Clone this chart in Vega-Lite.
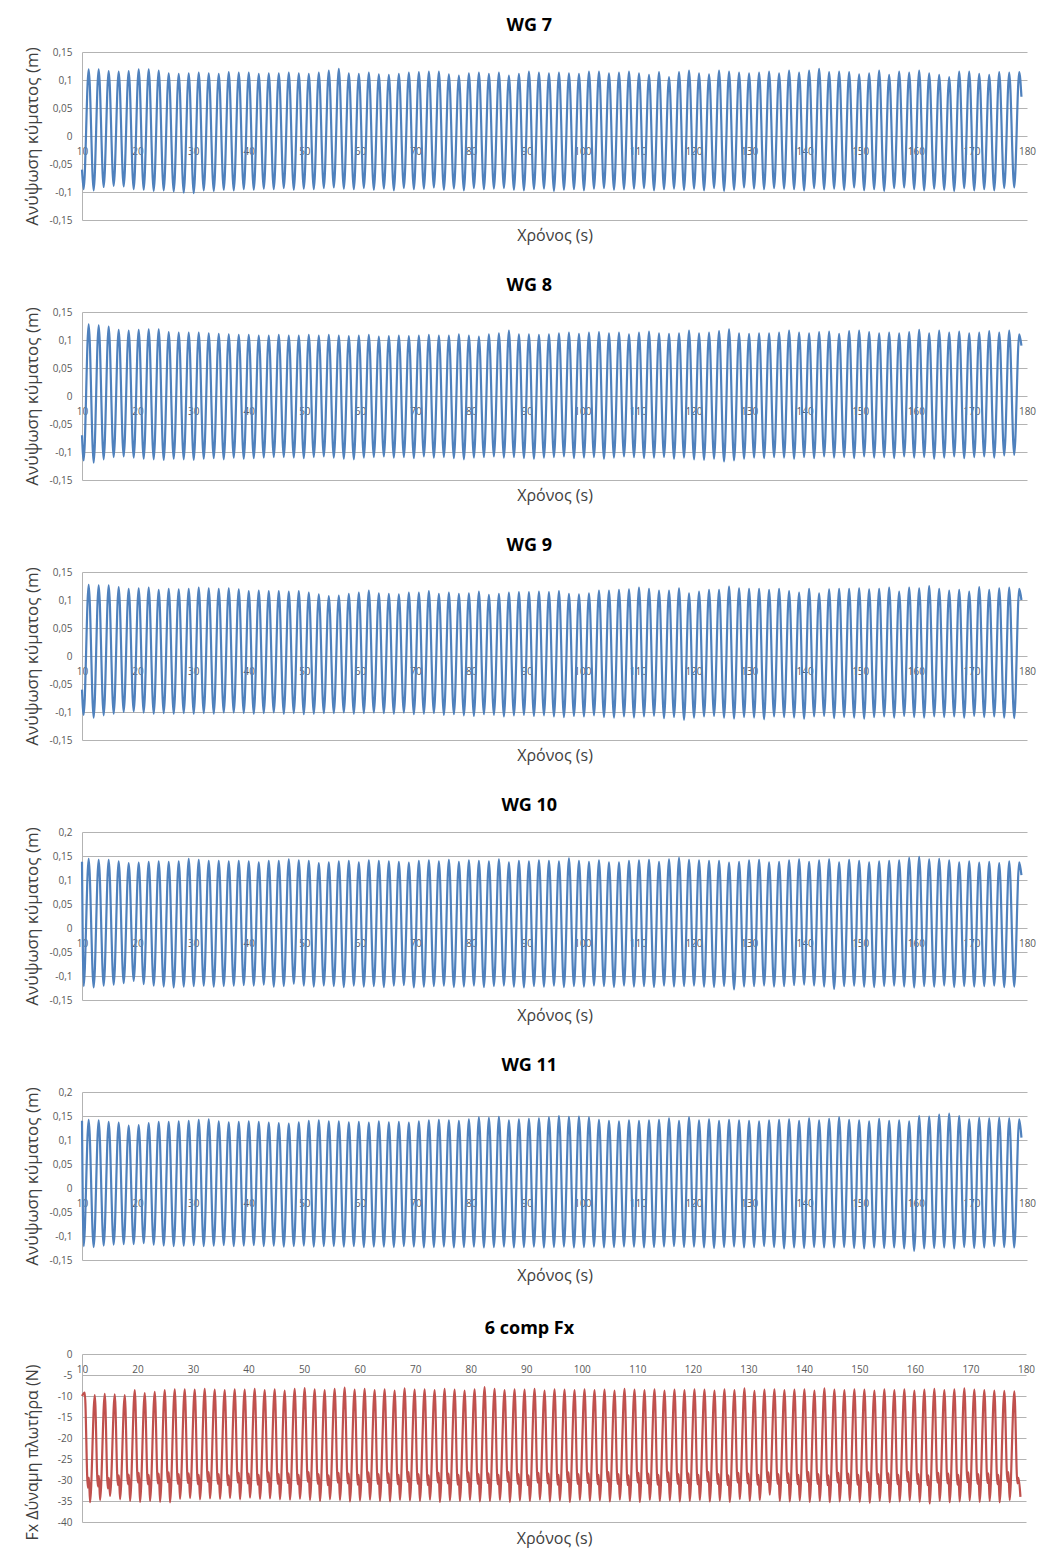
{
"$schema": "https://vega.github.io/schema/vega-lite/v6.json",
"background": "white",
"padding": {"left": 23, "top": 16, "right": 10, "bottom": 14},
"spacing": 37,
"datasets": {
"wg": [
{"t":10.0,"a":-0.06,"b":-0.07,"c":-0.06,"d":0.138,"e":0.14},
{"t":10.3,"a":-0.095,"b":-0.115,"c":-0.105,"d":-0.121,"e":-0.121},
{"t":11.2,"a":0.119,"b":0.128,"c":0.127,"d":0.144,"e":0.142},
{"t":12.1,"a":-0.097,"b":-0.119,"c":-0.110,"d":-0.124,"e":-0.123},
{"t":13.0,"a":0.119,"b":0.126,"c":0.126,"d":0.142,"e":0.141},
{"t":13.9,"a":-0.091,"b":-0.113,"c":-0.106,"d":-0.120,"e":-0.120},
{"t":14.8,"a":0.116,"b":0.124,"c":0.126,"d":0.142,"e":0.138},
{"t":15.7,"a":-0.089,"b":-0.109,"c":-0.103,"d":-0.118,"e":-0.118},
{"t":16.6,"a":0.115,"b":0.118,"c":0.123,"d":0.139,"e":0.136},
{"t":17.5,"a":-0.090,"b":-0.108,"c":-0.100,"d":-0.115,"e":-0.117},
{"t":18.4,"a":0.116,"b":0.117,"c":0.120,"d":0.135,"e":0.130},
{"t":19.3,"a":-0.095,"b":-0.110,"c":-0.099,"d":-0.110,"e":-0.117},
{"t":20.2,"a":0.119,"b":0.118,"c":0.121,"d":0.136,"e":0.131},
{"t":21.1,"a":-0.096,"b":-0.112,"c":-0.101,"d":-0.117,"e":-0.115},
{"t":22.0,"a":0.119,"b":0.119,"c":0.122,"d":0.138,"e":0.135},
{"t":22.9,"a":-0.098,"b":-0.113,"c":-0.103,"d":-0.120,"e":-0.118},
{"t":23.8,"a":0.117,"b":0.119,"c":0.118,"d":0.139,"e":0.138},
{"t":24.7,"a":-0.097,"b":-0.114,"c":-0.102,"d":-0.122,"e":-0.120},
{"t":25.6,"a":0.112,"b":0.114,"c":0.120,"d":0.138,"e":0.138},
{"t":26.5,"a":-0.099,"b":-0.112,"c":-0.103,"d":-0.124,"e":-0.121},
{"t":27.4,"a":0.111,"b":0.113,"c":0.119,"d":0.139,"e":0.139},
{"t":28.3,"a":-0.101,"b":-0.113,"c":-0.102,"d":-0.122,"e":-0.120},
{"t":29.2,"a":0.112,"b":0.113,"c":0.120,"d":0.144,"e":0.140},
{"t":30.1,"a":-0.102,"b":-0.114,"c":-0.103,"d":-0.121,"e":-0.119},
{"t":31.0,"a":0.113,"b":0.113,"c":0.122,"d":0.142,"e":0.142},
{"t":31.9,"a":-0.097,"b":-0.112,"c":-0.102,"d":-0.120,"e":-0.121},
{"t":32.8,"a":0.112,"b":0.112,"c":0.121,"d":0.140,"e":0.143},
{"t":33.7,"a":-0.098,"b":-0.111,"c":-0.103,"d":-0.122,"e":-0.120},
{"t":34.6,"a":0.111,"b":0.111,"c":0.120,"d":0.140,"e":0.139},
{"t":35.5,"a":-0.096,"b":-0.113,"c":-0.101,"d":-0.121,"e":-0.119},
{"t":36.4,"a":0.114,"b":0.110,"c":0.121,"d":0.139,"e":0.137},
{"t":37.3,"a":-0.097,"b":-0.110,"c":-0.101,"d":-0.120,"e":-0.121},
{"t":38.2,"a":0.113,"b":0.109,"c":0.119,"d":0.140,"e":0.138},
{"t":39.1,"a":-0.095,"b":-0.112,"c":-0.102,"d":-0.119,"e":-0.120},
{"t":40.0,"a":0.113,"b":0.109,"c":0.116,"d":0.139,"e":0.139},
{"t":40.9,"a":-0.096,"b":-0.111,"c":-0.103,"d":-0.120,"e":-0.119},
{"t":41.8,"a":0.111,"b":0.108,"c":0.117,"d":0.137,"e":0.138},
{"t":42.7,"a":-0.094,"b":-0.110,"c":-0.102,"d":-0.118,"e":-0.121},
{"t":43.6,"a":0.112,"b":0.108,"c":0.116,"d":0.140,"e":0.136},
{"t":44.5,"a":-0.095,"b":-0.109,"c":-0.101,"d":-0.122,"e":-0.120},
{"t":45.4,"a":0.112,"b":0.109,"c":0.116,"d":0.140,"e":0.135},
{"t":46.3,"a":-0.093,"b":-0.109,"c":-0.103,"d":-0.121,"e":-0.122},
{"t":47.2,"a":0.113,"b":0.108,"c":0.115,"d":0.143,"e":0.134},
{"t":48.1,"a":-0.096,"b":-0.110,"c":-0.102,"d":-0.116,"e":-0.121},
{"t":49.0,"a":0.112,"b":0.108,"c":0.116,"d":0.141,"e":0.137},
{"t":49.9,"a":-0.094,"b":-0.111,"c":-0.104,"d":-0.120,"e":-0.120},
{"t":50.8,"a":0.111,"b":0.109,"c":0.113,"d":0.140,"e":0.140},
{"t":51.7,"a":-0.095,"b":-0.109,"c":-0.103,"d":-0.122,"e":-0.122},
{"t":52.6,"a":0.113,"b":0.108,"c":0.110,"d":0.135,"e":0.141},
{"t":53.5,"a":-0.093,"b":-0.108,"c":-0.102,"d":-0.120,"e":-0.121},
{"t":54.4,"a":0.117,"b":0.109,"c":0.107,"d":0.137,"e":0.139},
{"t":55.3,"a":-0.092,"b":-0.110,"c":-0.102,"d":-0.121,"e":-0.121},
{"t":56.2,"a":0.120,"b":0.108,"c":0.108,"d":0.139,"e":0.139},
{"t":57.1,"a":-0.094,"b":-0.112,"c":-0.101,"d":-0.123,"e":-0.122},
{"t":58.0,"a":0.112,"b":0.107,"c":0.111,"d":0.140,"e":0.137},
{"t":58.9,"a":-0.095,"b":-0.113,"c":-0.103,"d":-0.120,"e":-0.121},
{"t":59.8,"a":0.111,"b":0.108,"c":0.113,"d":0.137,"e":0.138},
{"t":60.7,"a":-0.093,"b":-0.110,"c":-0.102,"d":-0.122,"e":-0.123},
{"t":61.6,"a":0.113,"b":0.109,"c":0.117,"d":0.141,"e":0.136},
{"t":62.5,"a":-0.096,"b":-0.109,"c":-0.101,"d":-0.121,"e":-0.122},
{"t":63.4,"a":0.110,"b":0.106,"c":0.112,"d":0.140,"e":0.139},
{"t":64.3,"a":-0.094,"b":-0.108,"c":-0.102,"d":-0.123,"e":-0.122},
{"t":65.2,"a":0.109,"b":0.107,"c":0.111,"d":0.139,"e":0.137},
{"t":66.1,"a":-0.097,"b":-0.110,"c":-0.103,"d":-0.120,"e":-0.123},
{"t":67.0,"a":0.111,"b":0.108,"c":0.110,"d":0.138,"e":0.138},
{"t":67.9,"a":-0.093,"b":-0.109,"c":-0.101,"d":-0.119,"e":-0.121},
{"t":68.8,"a":0.113,"b":0.107,"c":0.113,"d":0.136,"e":0.136},
{"t":69.7,"a":-0.095,"b":-0.111,"c":-0.104,"d":-0.124,"e":-0.122},
{"t":70.6,"a":0.114,"b":0.108,"c":0.113,"d":0.140,"e":0.139},
{"t":71.5,"a":-0.094,"b":-0.108,"c":-0.103,"d":-0.122,"e":-0.124},
{"t":72.4,"a":0.115,"b":0.109,"c":0.116,"d":0.141,"e":0.141},
{"t":73.3,"a":-0.092,"b":-0.110,"c":-0.102,"d":-0.121,"e":-0.123},
{"t":74.2,"a":0.115,"b":0.108,"c":0.111,"d":0.139,"e":0.142},
{"t":75.1,"a":-0.096,"b":-0.109,"c":-0.105,"d":-0.120,"e":-0.122},
{"t":76.0,"a":0.110,"b":0.108,"c":0.113,"d":0.142,"e":0.141},
{"t":76.9,"a":-0.094,"b":-0.111,"c":-0.104,"d":-0.123,"e":-0.124},
{"t":77.8,"a":0.108,"b":0.110,"c":0.111,"d":0.138,"e":0.140},
{"t":78.7,"a":-0.097,"b":-0.113,"c":-0.106,"d":-0.122,"e":-0.123},
{"t":79.6,"a":0.112,"b":0.108,"c":0.112,"d":0.141,"e":0.143},
{"t":80.5,"a":-0.093,"b":-0.110,"c":-0.107,"d":-0.120,"e":-0.122},
{"t":81.4,"a":0.113,"b":0.106,"c":0.115,"d":0.140,"e":0.147},
{"t":82.3,"a":-0.095,"b":-0.109,"c":-0.104,"d":-0.123,"e":-0.124},
{"t":83.2,"a":0.111,"b":0.110,"c":0.109,"d":0.139,"e":0.146},
{"t":84.1,"a":-0.094,"b":-0.108,"c":-0.105,"d":-0.121,"e":-0.123},
{"t":85.0,"a":0.113,"b":0.112,"c":0.111,"d":0.143,"e":0.148},
{"t":85.9,"a":-0.093,"b":-0.110,"c":-0.108,"d":-0.120,"e":-0.122},
{"t":86.8,"a":0.108,"b":0.117,"c":0.113,"d":0.137,"e":0.141},
{"t":87.7,"a":-0.096,"b":-0.109,"c":-0.106,"d":-0.122,"e":-0.124},
{"t":88.6,"a":0.111,"b":0.110,"c":0.114,"d":0.140,"e":0.143},
{"t":89.5,"a":-0.097,"b":-0.111,"c":-0.105,"d":-0.124,"e":-0.123},
{"t":90.4,"a":0.115,"b":0.110,"c":0.114,"d":0.139,"e":0.144},
{"t":91.3,"a":-0.095,"b":-0.112,"c":-0.107,"d":-0.121,"e":-0.122},
{"t":92.2,"a":0.113,"b":0.109,"c":0.115,"d":0.141,"e":0.145},
{"t":93.1,"a":-0.094,"b":-0.110,"c":-0.106,"d":-0.122,"e":-0.124},
{"t":94.0,"a":0.112,"b":0.110,"c":0.114,"d":0.140,"e":0.147},
{"t":94.9,"a":-0.098,"b":-0.109,"c":-0.108,"d":-0.120,"e":-0.123},
{"t":95.8,"a":0.113,"b":0.112,"c":0.116,"d":0.139,"e":0.150},
{"t":96.7,"a":-0.096,"b":-0.108,"c":-0.109,"d":-0.123,"e":-0.122},
{"t":97.6,"a":0.112,"b":0.113,"c":0.111,"d":0.145,"e":0.148},
{"t":98.5,"a":-0.095,"b":-0.111,"c":-0.107,"d":-0.121,"e":-0.124},
{"t":99.4,"a":0.111,"b":0.111,"c":0.110,"d":0.140,"e":0.149},
{"t":100.3,"a":-0.097,"b":-0.110,"c":-0.108,"d":-0.122,"e":-0.123},
{"t":101.2,"a":0.115,"b":0.113,"c":0.112,"d":0.138,"e":0.147},
{"t":102.1,"a":-0.094,"b":-0.109,"c":-0.106,"d":-0.120,"e":-0.122},
{"t":103.0,"a":0.115,"b":0.114,"c":0.117,"d":0.141,"e":0.142},
{"t":103.9,"a":-0.093,"b":-0.112,"c":-0.109,"d":-0.121,"e":-0.124},
{"t":104.8,"a":0.112,"b":0.112,"c":0.117,"d":0.137,"e":0.140},
{"t":105.7,"a":-0.096,"b":-0.110,"c":-0.110,"d":-0.123,"e":-0.123},
{"t":106.6,"a":0.113,"b":0.113,"c":0.118,"d":0.137,"e":0.139},
{"t":107.5,"a":-0.095,"b":-0.108,"c":-0.108,"d":-0.120,"e":-0.122},
{"t":108.4,"a":0.115,"b":0.110,"c":0.119,"d":0.140,"e":0.141},
{"t":109.3,"a":-0.094,"b":-0.109,"c":-0.110,"d":-0.122,"e":-0.122},
{"t":110.2,"a":0.112,"b":0.113,"c":0.122,"d":0.141,"e":0.140},
{"t":111.1,"a":-0.093,"b":-0.111,"c":-0.108,"d":-0.121,"e":-0.124},
{"t":112.0,"a":0.109,"b":0.115,"c":0.120,"d":0.142,"e":0.141},
{"t":112.9,"a":-0.097,"b":-0.110,"c":-0.107,"d":-0.123,"e":-0.123},
{"t":113.8,"a":0.114,"b":0.112,"c":0.117,"d":0.138,"e":0.142},
{"t":114.7,"a":-0.095,"b":-0.109,"c":-0.111,"d":-0.120,"e":-0.122},
{"t":115.6,"a":0.105,"b":0.111,"c":0.117,"d":0.143,"e":0.145},
{"t":116.5,"a":-0.094,"b":-0.112,"c":-0.109,"d":-0.122,"e":-0.121},
{"t":117.4,"a":0.114,"b":0.112,"c":0.121,"d":0.146,"e":0.140},
{"t":118.3,"a":-0.096,"b":-0.110,"c":-0.114,"d":-0.121,"e":-0.123},
{"t":119.2,"a":0.117,"b":0.117,"c":0.112,"d":0.142,"e":0.147},
{"t":120.1,"a":-0.094,"b":-0.113,"c":-0.110,"d":-0.120,"e":-0.122},
{"t":121.0,"a":0.112,"b":0.112,"c":0.115,"d":0.141,"e":0.141},
{"t":121.9,"a":-0.097,"b":-0.114,"c":-0.108,"d":-0.122,"e":-0.124},
{"t":122.8,"a":0.110,"b":0.113,"c":0.118,"d":0.140,"e":0.143},
{"t":123.7,"a":-0.093,"b":-0.112,"c":-0.107,"d":-0.123,"e":-0.125},
{"t":124.6,"a":0.117,"b":0.116,"c":0.118,"d":0.140,"e":0.140},
{"t":125.5,"a":-0.098,"b":-0.117,"c":-0.110,"d":-0.121,"e":-0.123},
{"t":126.4,"a":0.115,"b":0.119,"c":0.124,"d":0.136,"e":0.142},
{"t":127.3,"a":-0.096,"b":-0.115,"c":-0.112,"d":-0.128,"e":-0.122},
{"t":128.2,"a":0.113,"b":0.112,"c":0.121,"d":0.138,"e":0.141},
{"t":129.1,"a":-0.092,"b":-0.112,"c":-0.109,"d":-0.122,"e":-0.124},
{"t":130.0,"a":0.112,"b":0.111,"c":0.120,"d":0.141,"e":0.140},
{"t":130.9,"a":-0.094,"b":-0.110,"c":-0.110,"d":-0.121,"e":-0.123},
{"t":131.8,"a":0.113,"b":0.112,"c":0.120,"d":0.142,"e":0.139},
{"t":132.7,"a":-0.095,"b":-0.111,"c":-0.113,"d":-0.120,"e":-0.121},
{"t":133.6,"a":0.115,"b":0.112,"c":0.118,"d":0.137,"e":0.141},
{"t":134.5,"a":-0.093,"b":-0.109,"c":-0.108,"d":-0.122,"e":-0.123},
{"t":135.4,"a":0.112,"b":0.113,"c":0.120,"d":0.138,"e":0.142},
{"t":136.3,"a":-0.094,"b":-0.110,"c":-0.109,"d":-0.121,"e":-0.126},
{"t":137.2,"a":0.117,"b":0.117,"c":0.116,"d":0.141,"e":0.143},
{"t":138.1,"a":-0.095,"b":-0.112,"c":-0.110,"d":-0.119,"e":-0.124},
{"t":139.0,"a":0.113,"b":0.113,"c":0.113,"d":0.143,"e":0.140},
{"t":139.9,"a":-0.097,"b":-0.109,"c":-0.112,"d":-0.118,"e":-0.125},
{"t":140.8,"a":0.117,"b":0.112,"c":0.120,"d":0.138,"e":0.145},
{"t":141.7,"a":-0.093,"b":-0.111,"c":-0.108,"d":-0.120,"e":-0.123},
{"t":142.6,"a":0.120,"b":0.114,"c":0.112,"d":0.141,"e":0.141},
{"t":143.5,"a":-0.095,"b":-0.108,"c":-0.107,"d":-0.122,"e":-0.124},
{"t":144.4,"a":0.114,"b":0.115,"c":0.119,"d":0.143,"e":0.144},
{"t":145.3,"a":-0.094,"b":-0.110,"c":-0.111,"d":-0.127,"e":-0.124},
{"t":146.2,"a":0.115,"b":0.111,"c":0.120,"d":0.137,"e":0.147},
{"t":147.1,"a":-0.096,"b":-0.109,"c":-0.109,"d":-0.121,"e":-0.123},
{"t":148.0,"a":0.114,"b":0.116,"c":0.120,"d":0.142,"e":0.142},
{"t":148.9,"a":-0.092,"b":-0.111,"c":-0.110,"d":-0.120,"e":-0.125},
{"t":149.8,"a":0.110,"b":0.117,"c":0.121,"d":0.140,"e":0.141},
{"t":150.7,"a":-0.097,"b":-0.108,"c":-0.112,"d":-0.122,"e":-0.126},
{"t":151.6,"a":0.112,"b":0.114,"c":0.119,"d":0.137,"e":0.139},
{"t":152.5,"a":-0.095,"b":-0.110,"c":-0.109,"d":-0.123,"e":-0.124},
{"t":153.4,"a":0.117,"b":0.112,"c":0.120,"d":0.139,"e":0.144},
{"t":154.3,"a":-0.098,"b":-0.109,"c":-0.108,"d":-0.121,"e":-0.125},
{"t":155.2,"a":0.109,"b":0.113,"c":0.122,"d":0.140,"e":0.140},
{"t":156.1,"a":-0.093,"b":-0.111,"c":-0.110,"d":-0.120,"e":-0.124},
{"t":157.0,"a":0.115,"b":0.112,"c":0.115,"d":0.141,"e":0.141},
{"t":157.9,"a":-0.092,"b":-0.108,"c":-0.107,"d":-0.122,"e":-0.126},
{"t":158.8,"a":0.113,"b":0.114,"c":0.122,"d":0.146,"e":0.139},
{"t":159.7,"a":-0.095,"b":-0.110,"c":-0.109,"d":-0.124,"e":-0.131},
{"t":160.6,"a":0.117,"b":0.118,"c":0.121,"d":0.148,"e":0.150},
{"t":161.5,"a":-0.097,"b":-0.109,"c":-0.110,"d":-0.121,"e":-0.126},
{"t":162.4,"a":0.112,"b":0.112,"c":0.125,"d":0.143,"e":0.149},
{"t":163.3,"a":-0.094,"b":-0.112,"c":-0.108,"d":-0.122,"e":-0.125},
{"t":164.2,"a":0.109,"b":0.117,"c":0.120,"d":0.144,"e":0.153},
{"t":165.1,"a":-0.096,"b":-0.110,"c":-0.109,"d":-0.120,"e":-0.124},
{"t":166.0,"a":0.105,"b":0.113,"c":0.117,"d":0.141,"e":0.155},
{"t":166.9,"a":-0.098,"b":-0.108,"c":-0.108,"d":-0.123,"e":-0.126},
{"t":167.8,"a":0.115,"b":0.115,"c":0.118,"d":0.137,"e":0.150},
{"t":168.7,"a":-0.093,"b":-0.111,"c":-0.110,"d":-0.121,"e":-0.123},
{"t":169.6,"a":0.115,"b":0.112,"c":0.115,"d":0.139,"e":0.143},
{"t":170.5,"a":-0.097,"b":-0.109,"c":-0.107,"d":-0.122,"e":-0.125},
{"t":171.4,"a":0.111,"b":0.113,"c":0.123,"d":0.136,"e":0.146},
{"t":172.3,"a":-0.095,"b":-0.108,"c":-0.109,"d":-0.121,"e":-0.124},
{"t":173.2,"a":0.109,"b":0.116,"c":0.118,"d":0.138,"e":0.145},
{"t":174.1,"a":-0.097,"b":-0.110,"c":-0.108,"d":-0.120,"e":-0.121},
{"t":175.0,"a":0.114,"b":0.113,"c":0.121,"d":0.135,"e":0.146},
{"t":175.9,"a":-0.093,"b":-0.106,"c":-0.110,"d":-0.123,"e":-0.123},
{"t":176.8,"a":0.113,"b":0.117,"c":0.122,"d":0.139,"e":0.145},
{"t":177.7,"a":-0.092,"b":-0.105,"c":-0.111,"d":-0.122,"e":-0.124},
{"t":178.6,"a":0.114,"b":0.110,"c":0.120,"d":0.137,"e":0.143},
{"t":179.0,"a":0.07,"b":0.09,"c":0.10,"d":0.11,"e":0.105}
],
"fx": [
{"t":10.0,"f":-10.0},
{"t":10.5,"f":-9.2},{"t":11.05,"f":-31.8},{"t":11.25,"f":-29.4},{"t":11.45,"f":-35.3},
{"t":12.3,"f":-9.8},{"t":12.85,"f":-31.5},{"t":13.05,"f":-29.0},{"t":13.25,"f":-34.8},
{"t":14.1,"f":-9.5},{"t":14.65,"f":-32.0},{"t":14.85,"f":-29.5},{"t":15.05,"f":-33.8},
{"t":15.9,"f":-9.6},{"t":16.45,"f":-31.2},{"t":16.65,"f":-28.9},{"t":16.85,"f":-34.6},
{"t":17.7,"f":-9.8},{"t":18.25,"f":-31.0},{"t":18.45,"f":-28.7},{"t":18.65,"f":-35.0},
{"t":19.5,"f":-8.6},{"t":20.05,"f":-30.6},{"t":20.25,"f":-28.3},{"t":20.45,"f":-35.2},
{"t":21.3,"f":-9.3},{"t":21.85,"f":-31.0},{"t":22.05,"f":-28.8},{"t":22.25,"f":-35.0},
{"t":23.1,"f":-9.0},{"t":23.65,"f":-30.8},{"t":23.85,"f":-28.5},{"t":24.05,"f":-35.2},
{"t":24.9,"f":-8.6},{"t":25.45,"f":-30.5},{"t":25.65,"f":-28.2},{"t":25.85,"f":-35.3},
{"t":26.7,"f":-8.4},{"t":27.25,"f":-30.9},{"t":27.45,"f":-28.6},{"t":27.65,"f":-34.5},
{"t":28.5,"f":-8.4},{"t":29.05,"f":-30.7},{"t":29.25,"f":-28.4},{"t":29.45,"f":-34.3},
{"t":30.3,"f":-8.5},{"t":30.85,"f":-31.0},{"t":31.05,"f":-28.8},{"t":31.25,"f":-34.6},
{"t":32.1,"f":-8.3},{"t":32.65,"f":-30.4},{"t":32.85,"f":-28.1},{"t":33.05,"f":-34.4},
{"t":33.9,"f":-8.5},{"t":34.45,"f":-30.9},{"t":34.65,"f":-28.6},{"t":34.85,"f":-34.5},
{"t":35.7,"f":-8.6},{"t":36.25,"f":-31.2},{"t":36.45,"f":-28.9},{"t":36.65,"f":-34.3},
{"t":37.5,"f":-8.4},{"t":38.05,"f":-30.6},{"t":38.25,"f":-28.3},{"t":38.45,"f":-34.6},
{"t":39.3,"f":-8.5},{"t":39.85,"f":-30.8},{"t":40.05,"f":-28.5},{"t":40.25,"f":-34.2},
{"t":41.1,"f":-8.3},{"t":41.65,"f":-31.1},{"t":41.85,"f":-28.8},{"t":42.05,"f":-34.5},
{"t":42.9,"f":-8.6},{"t":43.45,"f":-30.5},{"t":43.65,"f":-28.2},{"t":43.85,"f":-34.4},
{"t":44.7,"f":-8.4},{"t":45.25,"f":-30.9},{"t":45.45,"f":-28.6},{"t":45.65,"f":-34.6},
{"t":46.5,"f":-8.7},{"t":47.05,"f":-30.7},{"t":47.25,"f":-28.4},{"t":47.45,"f":-34.7},
{"t":48.3,"f":-8.3},{"t":48.85,"f":-31.0},{"t":49.05,"f":-28.8},{"t":49.25,"f":-34.5},
{"t":50.1,"f":-8.1},{"t":50.65,"f":-30.4},{"t":50.85,"f":-28.1},{"t":51.05,"f":-34.8},
{"t":51.9,"f":-8.4},{"t":52.45,"f":-30.9},{"t":52.65,"f":-28.6},{"t":52.85,"f":-35.0},
{"t":53.7,"f":-8.6},{"t":54.25,"f":-31.2},{"t":54.45,"f":-28.9},{"t":54.65,"f":-34.6},
{"t":55.5,"f":-8.3},{"t":56.05,"f":-30.6},{"t":56.25,"f":-28.3},{"t":56.45,"f":-34.8},
{"t":57.3,"f":-8.0},{"t":57.85,"f":-30.8},{"t":58.05,"f":-28.5},{"t":58.25,"f":-35.1},
{"t":59.1,"f":-8.5},{"t":59.65,"f":-31.1},{"t":59.85,"f":-28.8},{"t":60.05,"f":-34.9},
{"t":60.9,"f":-8.3},{"t":61.45,"f":-30.5},{"t":61.65,"f":-28.2},{"t":61.85,"f":-34.7},
{"t":62.7,"f":-8.6},{"t":63.25,"f":-30.9},{"t":63.45,"f":-28.6},{"t":63.65,"f":-35.0},
{"t":64.5,"f":-8.4},{"t":65.05,"f":-30.7},{"t":65.25,"f":-28.4},{"t":65.45,"f":-35.1},
{"t":66.3,"f":-8.7},{"t":66.85,"f":-31.0},{"t":67.05,"f":-28.8},{"t":67.25,"f":-34.8},
{"t":68.1,"f":-8.2},{"t":68.65,"f":-30.4},{"t":68.85,"f":-28.1},{"t":69.05,"f":-34.9},
{"t":69.9,"f":-8.5},{"t":70.45,"f":-30.9},{"t":70.65,"f":-28.6},{"t":70.85,"f":-35.0},
{"t":71.7,"f":-8.4},{"t":72.25,"f":-31.2},{"t":72.45,"f":-28.9},{"t":72.65,"f":-34.7},
{"t":73.5,"f":-8.6},{"t":74.05,"f":-30.6},{"t":74.25,"f":-28.3},{"t":74.45,"f":-35.2},
{"t":75.3,"f":-8.3},{"t":75.85,"f":-30.8},{"t":76.05,"f":-28.5},{"t":76.25,"f":-34.9},
{"t":77.1,"f":-8.5},{"t":77.65,"f":-31.1},{"t":77.85,"f":-28.8},{"t":78.05,"f":-35.0},
{"t":78.9,"f":-8.7},{"t":79.45,"f":-30.5},{"t":79.65,"f":-28.2},{"t":79.85,"f":-34.8},
{"t":80.7,"f":-8.4},{"t":81.25,"f":-30.9},{"t":81.45,"f":-28.6},{"t":81.65,"f":-35.1},
{"t":82.5,"f":-7.9},{"t":83.05,"f":-30.7},{"t":83.25,"f":-28.4},{"t":83.45,"f":-35.0},
{"t":84.3,"f":-8.3},{"t":84.85,"f":-31.0},{"t":85.05,"f":-28.8},{"t":85.25,"f":-34.8},
{"t":86.1,"f":-8.6},{"t":86.65,"f":-30.4},{"t":86.85,"f":-28.1},{"t":87.05,"f":-35.2},
{"t":87.9,"f":-8.4},{"t":88.45,"f":-30.9},{"t":88.65,"f":-28.6},{"t":88.85,"f":-34.9},
{"t":89.7,"f":-8.5},{"t":90.25,"f":-31.2},{"t":90.45,"f":-28.9},{"t":90.65,"f":-35.0},
{"t":91.5,"f":-8.3},{"t":92.05,"f":-30.6},{"t":92.25,"f":-28.3},{"t":92.45,"f":-34.7},
{"t":93.3,"f":-8.7},{"t":93.85,"f":-30.8},{"t":94.05,"f":-28.5},{"t":94.25,"f":-35.1},
{"t":95.1,"f":-8.4},{"t":95.65,"f":-31.1},{"t":95.85,"f":-28.8},{"t":96.05,"f":-34.9},
{"t":96.9,"f":-8.5},{"t":97.45,"f":-30.5},{"t":97.65,"f":-28.2},{"t":97.85,"f":-35.2},
{"t":98.7,"f":-8.6},{"t":99.25,"f":-30.9},{"t":99.45,"f":-28.6},{"t":99.65,"f":-34.8},
{"t":100.5,"f":-8.4},{"t":101.05,"f":-30.7},{"t":101.25,"f":-28.4},{"t":101.45,"f":-35.0},
{"t":102.3,"f":-8.6},{"t":102.85,"f":-31.0},{"t":103.05,"f":-28.8},{"t":103.25,"f":-34.9},
{"t":104.1,"f":-8.5},{"t":104.65,"f":-30.4},{"t":104.85,"f":-28.1},{"t":105.05,"f":-35.1},
{"t":105.9,"f":-8.7},{"t":106.45,"f":-30.9},{"t":106.65,"f":-28.6},{"t":106.85,"f":-34.7},
{"t":107.7,"f":-8.3},{"t":108.25,"f":-31.2},{"t":108.45,"f":-28.9},{"t":108.65,"f":-35.0},
{"t":109.5,"f":-8.5},{"t":110.05,"f":-30.6},{"t":110.25,"f":-28.3},{"t":110.45,"f":-35.2},
{"t":111.3,"f":-8.6},{"t":111.85,"f":-30.8},{"t":112.05,"f":-28.5},{"t":112.25,"f":-34.8},
{"t":113.1,"f":-8.4},{"t":113.65,"f":-31.1},{"t":113.85,"f":-28.8},{"t":114.05,"f":-35.0},
{"t":114.9,"f":-8.7},{"t":115.45,"f":-30.5},{"t":115.65,"f":-28.2},{"t":115.85,"f":-34.9},
{"t":116.7,"f":-8.5},{"t":117.25,"f":-30.9},{"t":117.45,"f":-28.6},{"t":117.65,"f":-35.1},
{"t":118.5,"f":-8.6},{"t":119.05,"f":-30.7},{"t":119.25,"f":-28.4},{"t":119.45,"f":-35.0},
{"t":120.3,"f":-8.4},{"t":120.85,"f":-31.0},{"t":121.05,"f":-28.8},{"t":121.25,"f":-34.8},
{"t":122.1,"f":-8.5},{"t":122.65,"f":-30.4},{"t":122.85,"f":-28.1},{"t":123.05,"f":-35.1},
{"t":123.9,"f":-8.7},{"t":124.45,"f":-30.9},{"t":124.65,"f":-28.6},{"t":124.85,"f":-34.9},
{"t":125.7,"f":-8.4},{"t":126.25,"f":-31.2},{"t":126.45,"f":-28.9},{"t":126.65,"f":-35.2},
{"t":127.5,"f":-8.6},{"t":128.05,"f":-30.6},{"t":128.25,"f":-28.3},{"t":128.45,"f":-34.6},
{"t":129.3,"f":-8.2},{"t":129.85,"f":-30.8},{"t":130.05,"f":-28.5},{"t":130.25,"f":-35.0},
{"t":131.1,"f":-8.8},{"t":131.65,"f":-31.1},{"t":131.85,"f":-28.8},{"t":132.05,"f":-34.8},
{"t":132.9,"f":-8.5},{"t":133.45,"f":-30.5},{"t":133.65,"f":-28.2},{"t":133.85,"f":-33.5},
{"t":134.7,"f":-8.4},{"t":135.25,"f":-30.9},{"t":135.45,"f":-28.6},{"t":135.65,"f":-35.0},
{"t":136.5,"f":-8.6},{"t":137.05,"f":-30.7},{"t":137.25,"f":-28.4},{"t":137.45,"f":-35.1},
{"t":138.3,"f":-8.5},{"t":138.85,"f":-31.0},{"t":139.05,"f":-28.8},{"t":139.25,"f":-34.9},
{"t":140.1,"f":-8.4},{"t":140.65,"f":-30.4},{"t":140.85,"f":-28.1},{"t":141.05,"f":-35.2},
{"t":141.9,"f":-8.7},{"t":142.45,"f":-30.9},{"t":142.65,"f":-28.6},{"t":142.85,"f":-35.0},
{"t":143.7,"f":-8.2},{"t":144.25,"f":-31.2},{"t":144.45,"f":-28.9},{"t":144.65,"f":-35.3},
{"t":145.5,"f":-8.5},{"t":146.05,"f":-30.6},{"t":146.25,"f":-28.3},{"t":146.45,"f":-35.1},
{"t":147.3,"f":-8.6},{"t":147.85,"f":-30.8},{"t":148.05,"f":-28.5},{"t":148.25,"f":-34.9},
{"t":149.1,"f":-8.4},{"t":149.65,"f":-31.1},{"t":149.85,"f":-28.8},{"t":150.05,"f":-35.2},
{"t":150.9,"f":-8.5},{"t":151.45,"f":-30.5},{"t":151.65,"f":-28.2},{"t":151.85,"f":-35.4},
{"t":152.7,"f":-8.7},{"t":153.25,"f":-30.9},{"t":153.45,"f":-28.6},{"t":153.65,"f":-35.0},
{"t":154.5,"f":-8.4},{"t":155.05,"f":-30.7},{"t":155.25,"f":-28.4},{"t":155.45,"f":-35.3},
{"t":156.3,"f":-8.6},{"t":156.85,"f":-31.0},{"t":157.05,"f":-28.8},{"t":157.25,"f":-35.1},
{"t":158.1,"f":-8.4},{"t":158.65,"f":-30.4},{"t":158.85,"f":-28.1},{"t":159.05,"f":-34.9},
{"t":159.9,"f":-8.7},{"t":160.45,"f":-30.9},{"t":160.65,"f":-28.6},{"t":160.85,"f":-35.2},
{"t":161.7,"f":-8.5},{"t":162.25,"f":-31.2},{"t":162.45,"f":-28.9},{"t":162.65,"f":-35.6},
{"t":163.5,"f":-8.3},{"t":164.05,"f":-30.6},{"t":164.25,"f":-28.3},{"t":164.45,"f":-35.0},
{"t":165.3,"f":-8.6},{"t":165.85,"f":-30.8},{"t":166.05,"f":-28.5},{"t":166.25,"f":-35.3},
{"t":167.1,"f":-8.4},{"t":167.65,"f":-31.1},{"t":167.85,"f":-28.8},{"t":168.05,"f":-35.1},
{"t":168.9,"f":-8.2},{"t":169.45,"f":-30.5},{"t":169.65,"f":-28.2},{"t":169.85,"f":-34.9},
{"t":170.7,"f":-8.5},{"t":171.25,"f":-30.9},{"t":171.45,"f":-28.6},{"t":171.65,"f":-35.2},
{"t":172.5,"f":-8.6},{"t":173.05,"f":-30.7},{"t":173.25,"f":-28.4},{"t":173.45,"f":-35.0},
{"t":174.3,"f":-8.7},{"t":174.85,"f":-31.0},{"t":175.05,"f":-28.8},{"t":175.25,"f":-35.3},
{"t":176.1,"f":-8.8},{"t":176.65,"f":-30.4},{"t":176.85,"f":-28.1},{"t":177.05,"f":-34.8},
{"t":177.9,"f":-8.9},{"t":178.45,"f":-30.8},{"t":178.65,"f":-29.5},{"t":179.0,"f":-34.0}
]
},
"vconcat": [
{
"spacing": 33,
"vconcat": [
{
"width": 945, "height": 168, "title": "WG 7", "data": {"name": "wg"},
"mark": {"type": "line", "color": "#4F81BD"},
"encoding": {
"x": {"field": "t", "type": "quantitative", "scale": {"domain": [10, 180], "nice": false, "zero": false},
"axis": {"title": "Χρόνος (s)", "values": [10,20,30,40,50,60,70,80,90,100,110,120,130,140,150,160,170,180], "offset": -84, "titleY": 99, "titleBaseline": "middle"}},
"y": {"field": "a", "type": "quantitative", "scale": {"domain": [-0.15, 0.15], "nice": false, "zero": false},
"axis": {"title": "Ανύψωση κύματος (m)", "values": [-0.15,-0.1,-0.05,0,0.05,0.1,0.15], "format": ".2~f"}}
}
},
{
"width": 945, "height": 168, "title": "WG 8", "data": {"name": "wg"},
"mark": {"type": "line", "color": "#4F81BD"},
"encoding": {
"x": {"field": "t", "type": "quantitative", "scale": {"domain": [10, 180], "nice": false, "zero": false},
"axis": {"title": "Χρόνος (s)", "values": [10,20,30,40,50,60,70,80,90,100,110,120,130,140,150,160,170,180], "offset": -84, "titleY": 99, "titleBaseline": "middle"}},
"y": {"field": "b", "type": "quantitative", "scale": {"domain": [-0.15, 0.15], "nice": false, "zero": false},
"axis": {"title": "Ανύψωση κύματος (m)", "values": [-0.15,-0.1,-0.05,0,0.05,0.1,0.15], "format": ".2~f"}}
}
},
{
"width": 945, "height": 168, "title": "WG 9", "data": {"name": "wg"},
"mark": {"type": "line", "color": "#4F81BD"},
"encoding": {
"x": {"field": "t", "type": "quantitative", "scale": {"domain": [10, 180], "nice": false, "zero": false},
"axis": {"title": "Χρόνος (s)", "values": [10,20,30,40,50,60,70,80,90,100,110,120,130,140,150,160,170,180], "offset": -84, "titleY": 99, "titleBaseline": "middle"}},
"y": {"field": "c", "type": "quantitative", "scale": {"domain": [-0.15, 0.15], "nice": false, "zero": false},
"axis": {"title": "Ανύψωση κύματος (m)", "values": [-0.15,-0.1,-0.05,0,0.05,0.1,0.15], "format": ".2~f"}}
}
},
{
"width": 945, "height": 168, "title": "WG 10", "data": {"name": "wg"},
"mark": {"type": "line", "color": "#4F81BD"},
"encoding": {
"x": {"field": "t", "type": "quantitative", "scale": {"domain": [10, 180], "nice": false, "zero": false},
"axis": {"title": "Χρόνος (s)", "values": [10,20,30,40,50,60,70,80,90,100,110,120,130,140,150,160,170,180], "offset": -72, "titleY": 87, "titleBaseline": "middle"}},
"y": {"field": "d", "type": "quantitative", "scale": {"domain": [-0.15, 0.2], "nice": false, "zero": false},
"axis": {"title": "Ανύψωση κύματος (m)", "values": [-0.15,-0.1,-0.05,0,0.05,0.1,0.15,0.2], "format": ".2~f"}}
}
},
{
"width": 945, "height": 168, "title": "WG 11", "data": {"name": "wg"},
"mark": {"type": "line", "color": "#4F81BD"},
"encoding": {
"x": {"field": "t", "type": "quantitative", "scale": {"domain": [10, 180], "nice": false, "zero": false},
"axis": {"title": "Χρόνος (s)", "values": [10,20,30,40,50,60,70,80,90,100,110,120,130,140,150,160,170,180], "offset": -72, "titleY": 87, "titleBaseline": "middle"}},
"y": {"field": "e", "type": "quantitative", "scale": {"domain": [-0.15, 0.2], "nice": false, "zero": false},
"axis": {"title": "Ανύψωση κύματος (m)", "values": [-0.15,-0.1,-0.05,0,0.05,0.1,0.15,0.2], "format": ".2~f"}}
}
}
]
},
{
"width": 944, "height": 168, "title": {"text": "6 comp Fx", "offset": 11}, "data": {"name": "fx"},
"mark": {"type": "line", "color": "#C0504D"},
"encoding": {
"x": {"field": "t", "type": "quantitative", "scale": {"domain": [10, 180], "nice": false, "zero": false},
"axis": {"title": "Χρόνος (s)", "values": [10,20,30,40,50,60,70,80,90,100,110,120,130,140,150,160,170,180], "offset": -168, "titleY": 184, "titleBaseline": "middle"}},
"y": {"field": "f", "type": "quantitative", "scale": {"domain": [-40, 0], "nice": false, "zero": false},
"axis": {"title": "Fx Δύναμη πλωτήρα (N)", "values": [-40,-35,-30,-25,-20,-15,-10,-5,0], "format": "d", "titleY": 98, "titlePadding": 17, "titleFontSize": 16}}
}
}
],
"config": {
"locale": {"number": {"decimal": ",", "thousands": ".", "grouping": [3], "currency": ["", " €"], "minus": "-"}},
"font": "Open Sans",
"view": {"stroke": null},
"title": {"font": "Open Sans", "fontSize": 18, "fontWeight": "bold", "color": "#000000", "anchor": "middle", "frame": "bounds", "offset": 12},
"axis": {"labelFont": "Open Sans", "labelFontSize": 10, "labelColor": "#595959", "titleFont": "Open Sans", "titleFontWeight": "normal", "titleColor": "#404040", "ticks": false, "tickSize": 0, "domainColor": "#b3b3b3", "gridColor": "#b3b3b3", "gridWidth": 1, "domainWidth": 1},
"axisX": {"grid": false, "domain": false, "labelPadding": 10, "titleFontSize": 16, "labelFlush": false, "labelOverlap": false},
"axisY": {"grid": true, "domain": true, "labelPadding": 10, "titleFontSize": 17, "titlePadding": 8},
"line": {"interpolate": "monotone", "strokeWidth": 2.2}
}
}
